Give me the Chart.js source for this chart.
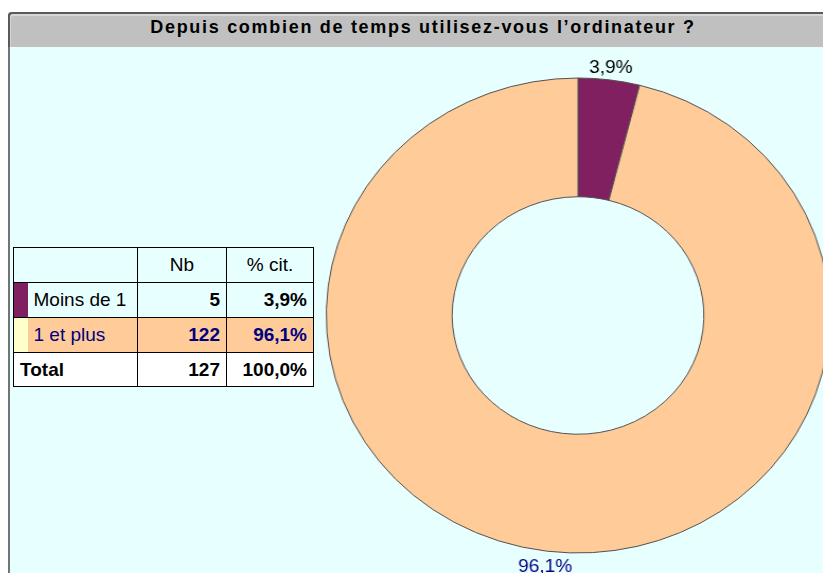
<!DOCTYPE html>
<html>
<head>
<meta charset="utf-8">
<script src="https://cdn.jsdelivr.net/npm/chart.js@4"></script>
<style>
  body { margin: 0; width: 823px; height: 573px; overflow: hidden; background: #fff; position: relative; font-family: "Liberation Sans", Arial, sans-serif; }
  #frame { position: absolute; left: 8px; top: 12px; width: 900px; height: 600px; background: #E8FFFF; border-left: 2px solid #6E7676; border-top-left-radius: 4px; }
  #titlebar { position: absolute; left: 8px; top: 12px; width: 900px; height: 35px; background: #C0C0C0; border-top: 2px solid #5A5A5A; border-left: 2px solid #5A5A5A; border-top-left-radius: 4px; box-sizing: border-box; box-shadow: inset 1px 2px 0 #D6D6D6; }
  #title { position: absolute; left: 0; top: 17px; width: 846px; text-align: center; font-weight: bold; font-size: 18px; letter-spacing: 1.7px; color: #000; }
  #pie { position: absolute; left: 298px; top: 0; transform-origin: 280px 315px; transform: scaleX(1.06); }
  #tbl { position: absolute; left: 13px; top: 247px; border-collapse: collapse; table-layout: fixed; font-size: 19px; }
  #tbl td { border: 1px solid #000; padding: 0 6px; height: 33px; white-space: nowrap; }
  #tbl td.num { text-align: right; font-weight: bold; }
  #tbl td.hd { text-align: center; }
  #tbl td.sw { padding: 0; border-right: none; }
  #tbl td.lab { border-left: none; }
</style>
</head>
<body>
<div id="frame"></div>
<div id="titlebar"></div>
<div id="title">Depuis combien de temps utilisez-vous l’ordinateur ?</div>
<table id="tbl">
  <colgroup><col style="width:14px"><col style="width:110px"><col style="width:89px"><col style="width:87px"></colgroup>
  <tbody id="tbody"></tbody>
</table>
<canvas id="pie" width="560" height="573"></canvas>
<script>
// données du graphique
var categories = ['Moins de 1', '1 et plus'];
var counts = [5, 122];
var headers = ['Nb', '% cit.'];
var totalLabel = 'Total';

var sliceColors = ['#802060', '#FFCC99'];
var swatchColors = ['#802060', '#FFFFCC'];
var rowBg = ['#E8FFFF', '#FFCC99'];
var rowText = ['#000', '#000080'];
var labelColors = ['#000', '#000080'];

var total = counts.reduce(function (a, b) { return a + b; }, 0);

function pct(v) {
    return (v / total * 100).toFixed(1).replace('.', ',') + '%';
}

// tableau à gauche
var tbody = document.getElementById('tbody');
var html = '<tr style="height:35px"><td colspan="2"></td><td class="hd">' + headers[0] + '</td><td class="hd">' + headers[1] + '</td></tr>';
categories.forEach(function (c, i) {
    html += '<tr style="height:35px;color:' + rowText[i] + '">' +
        '<td class="sw" style="background:' + swatchColors[i] + '"></td>' +
        '<td class="lab" style="background:' + rowBg[i] + '">' + c + '</td>' +
        '<td class="num" style="background:' + rowBg[i] + '">' + counts[i] + '</td>' +
        '<td class="num" style="background:' + rowBg[i] + '">' + pct(counts[i]) + '</td></tr>';
});
html += '<tr style="height:33px;background:#fff"><td colspan="2" style="font-weight:bold">' + totalLabel + '</td>' +
    '<td class="num">' + total + '</td><td class="num">' + pct(total) + '</td></tr>';
tbody.innerHTML = html;

// étiquettes de pourcentage à l'extérieur de l'anneau
var outsideLabels = {
    id: 'outsideLabels',
    afterDraw: function (chart) {
        var ctx = chart.ctx;
        var meta = chart.getDatasetMeta(0);
        ctx.save();
        ctx.font = '18px "Liberation Sans", Arial, sans-serif';
        ctx.textAlign = 'center';
        meta.data.forEach(function (arc, i) {
            var p = arc.getProps(['x', 'y', 'startAngle', 'endAngle', 'outerRadius'], true);
            var mid = (p.startAngle + p.endAngle) / 2;
            var s = Math.sin(mid);
            var r = p.outerRadius + 3;
            ctx.fillStyle = labelColors[i];
            ctx.textBaseline = s < 0 ? 'bottom' : 'top';
            ctx.fillText(pct(counts[i]), p.x + Math.cos(mid) * (r + 10), p.y + s * (r + (s < 0 ? 0 : 4)));
        });
        ctx.restore();
    }
};

var canvas = document.getElementById('pie');
var myChart = new Chart(canvas.getContext('2d'), {
    type: 'doughnut',
    data: {
        labels: categories,
        datasets: [{
            data: counts,
            backgroundColor: sliceColors,
            borderColor: '#505050',
            borderWidth: 1
        }]
    },
    options: {
        responsive: false,
        animation: false,
        cutout: '50%',
        layout: { padding: { top: 77.5, bottom: 19.5, left: 42, right: 42 } },
        plugins: {
            legend: { display: false },
            tooltip: { enabled: false }
        }
    },
    plugins: [outsideLabels]
});
</script>
</body>
</html>
